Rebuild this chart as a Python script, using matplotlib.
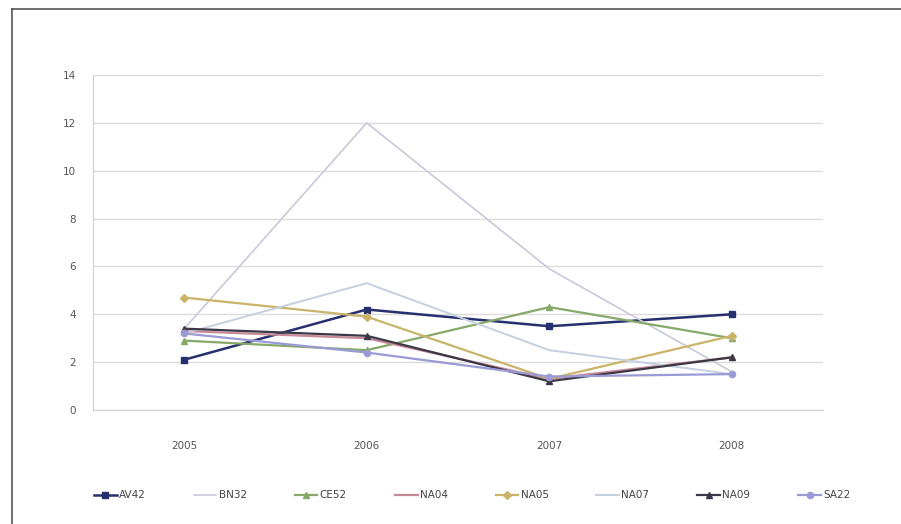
import matplotlib.pyplot as plt
from matplotlib.lines import Line2D

years = ["2005", "2006", "2007", "2008"]
series_names = ["AV42", "BN32", "CE52", "NA04", "NA05", "NA07", "NA09", "SA22"]

av42 = [2.1, 4.2, 3.5, 4.0]
bn32 = [3.4, 12.0, 5.9, 1.6]
ce52 = [2.9, 2.5, 4.3, 3.0]
na04 = [3.3, 3.0, 1.3, 2.2]
na05 = [4.7, 3.9, 1.3, 3.1]
na07 = [3.2, 5.3, 2.5, 1.5]
na09 = [3.4, 3.1, 1.2, 2.2]
sa22 = [3.2, 2.4, 1.4, 1.5]

y_ticks = [0, 2, 4, 6, 8, 10, 12, 14]

# line colour, marker, line width for each site
styles = {
    "AV42": ("#27306e", "s", 1.8),
    "BN32": ("#c9c9da", None, 1.2),
    "CE52": ("#86a868", "^", 1.6),
    "NA04": ("#c88a96", None, 1.6),
    "NA05": ("#c9b469", "D", 1.6),
    "NA07": ("#c4d0e0", None, 1.4),
    "NA09": ("#3b3746", "^", 1.6),
    "SA22": ("#9a9ad6", "o", 1.6),
}
values = [av42, bn32, ce52, na04, na05, na07, na09, sa22]

fig = plt.figure(figsize=(9.01, 5.24), dpi=100)
ax = fig.add_axes([93 / 901, 114 / 524, 730 / 901, 335 / 524])

x = range(len(years))
for name, vals in zip(series_names, values):
    color, marker, lw = styles[name]
    ax.plot(x, vals, color=color, lw=lw, marker=marker, markersize=4.5,
            markeredgecolor=color, label=name, zorder=3)

ax.set_xlim(-0.5, len(years) - 0.5)
ax.set_ylim(0, 14)
ax.set_yticks(y_ticks)
ax.set_xticks(list(x))
ax.set_xticklabels(years)
ax.grid(axis="y", color="#dcdcdc", lw=1)
ax.set_axisbelow(True)
for side in ["top", "right"]:
    ax.spines[side].set_visible(False)
for side in ["left", "bottom"]:
    ax.spines[side].set_color("#d0d0d0")
ax.tick_params(axis="both", length=0, labelsize=7.5, colors="#555555")
ax.tick_params(axis="x", pad=22)
ax.tick_params(axis="y", pad=12)

handles = []
for name in series_names:
    color, marker, lw = styles[name]
    handles.append(Line2D([], [], color=color, lw=lw, marker=marker,
                          markersize=4.5, label=name))
leg = fig.legend(handles=handles, loc="center", bbox_to_anchor=(0.524, 0.055),
                 ncol=8, frameon=False, fontsize=7.5, handlelength=2.2,
                 columnspacing=4.6, handletextpad=0.2)
for t in leg.get_texts():
    t.set_color("#444444")

# outer frame edges
fig.add_artist(Line2D([12 / 901, 1.0], [1 - 9 / 524, 1 - 9 / 524],
                      color="#555555", lw=1.2))
fig.add_artist(Line2D([12 / 901, 12 / 901], [0, 1 - 9 / 524],
                      color="#555555", lw=1.2))

fig.savefig("out.png", dpi=100)
